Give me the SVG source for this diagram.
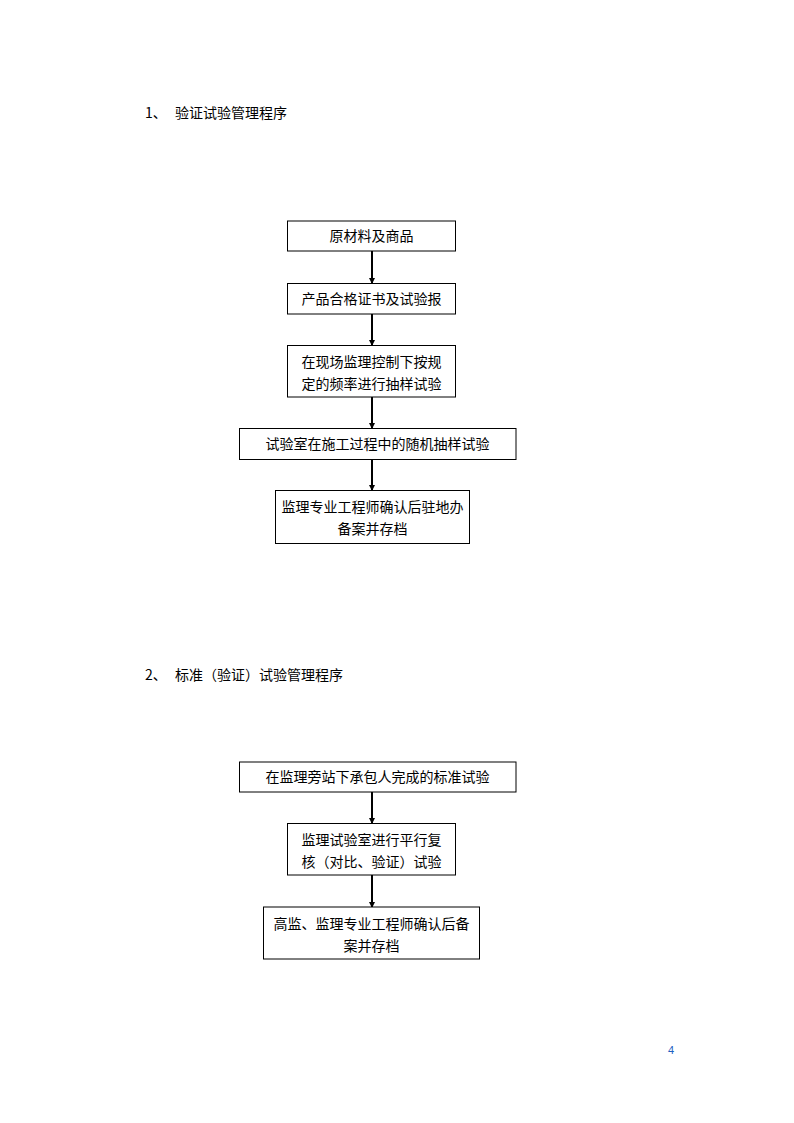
<svg xmlns="http://www.w3.org/2000/svg" width="794" height="1123" viewBox="0 0 794 1123">
<style>
.box{fill:#fff;stroke:#000;stroke-width:1}
.t{font-family:"Noto Sans CJK SC","Noto Sans CJK JP",sans-serif;font-size:14px;fill:#000}
.c{text-anchor:middle}
.ln{stroke:#000;stroke-width:2;fill:none;marker-end:url(#ah)}
</style>
<defs>
<marker id="ah" markerWidth="6" markerHeight="6" refX="5" refY="3" orient="auto" markerUnits="userSpaceOnUse">
<path d="M0,0 L6,3 L0,6 Z" fill="#000"/>
</marker>
</defs>
<rect width="794" height="1123" fill="#fff"/>
<text class="t" x="145" y="118">1、</text>
<text class="t" x="175" y="118">验证试验管理程序</text>
<text class="t" x="145" y="680">2、</text>
<text class="t" x="175" y="680">标准（验证）试验管理程序</text>
<g id="connectors">
<line class="ln" x1="372" y1="251" x2="372" y2="283"/>
<line class="ln" x1="372" y1="314" x2="372" y2="345"/>
<line class="ln" x1="372" y1="397" x2="372" y2="428"/>
<line class="ln" x1="372" y1="459" x2="372" y2="490"/>
<line class="ln" x1="372" y1="792" x2="372" y2="823"/>
<line class="ln" x1="372" y1="875" x2="372" y2="907"/>
</g>
<g id="n1"><rect class="box" x="287.5" y="221" width="168" height="30"/><text class="t c" x="371.5" y="241">原材料及商品</text></g>
<g id="n2"><rect class="box" x="287.5" y="283.5" width="168" height="30.5"/><text class="t c" x="371.5" y="304">产品合格证书及试验报</text></g>
<g id="n3"><rect class="box" x="287.5" y="345.5" width="168" height="51.5"/><text class="t c" x="371.5" y="367">在现场监理控制下按规</text><text class="t c" x="371.5" y="389">定的频率进行抽样试验</text></g>
<g id="n4"><rect class="box" x="239.5" y="428.5" width="276.5" height="31"/><text class="t c" x="377.5" y="449">试验室在施工过程中的随机抽样试验</text></g>
<g id="n5"><rect class="box" x="275.5" y="490.5" width="194" height="53"/><text class="t c" x="372.5" y="512">监理专业工程师确认后驻地办</text><text class="t c" x="372.5" y="534">备案并存档</text></g>
<g id="m1"><rect class="box" x="239.5" y="762" width="276.5" height="30"/><text class="t c" x="377.5" y="782">在监理旁站下承包人完成的标准试验</text></g>
<g id="m2"><rect class="box" x="287.5" y="823.5" width="168" height="51.5"/><text class="t c" x="371.5" y="845">监理试验室进行平行复</text><text class="t c" x="371.5" y="867">核（对比、验证）试验</text></g>
<g id="m3"><rect class="box" x="263.5" y="907" width="216" height="52"/><text class="t c" x="371.5" y="929">高监、监理专业工程师确认后备</text><text class="t c" x="371.5" y="951">案并存档</text></g>
<text x="671" y="1054" font-family="Liberation Sans,sans-serif" font-size="11" fill="#1f5fbf" text-anchor="middle">4</text>
</svg>
